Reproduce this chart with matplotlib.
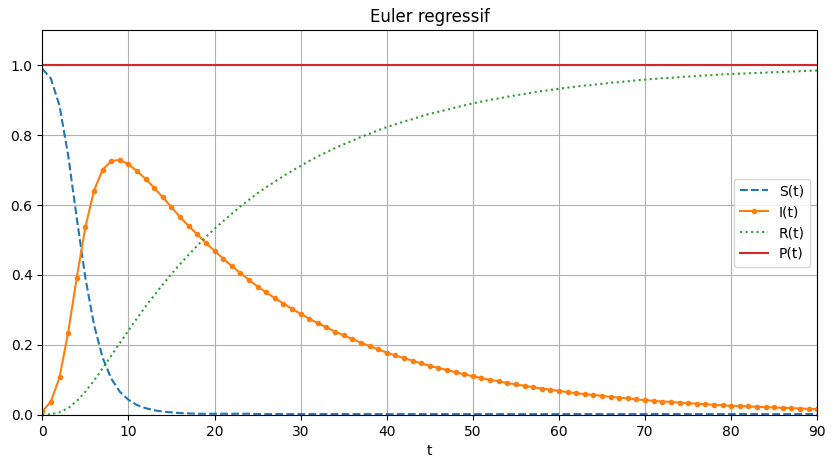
import matplotlib
matplotlib.use("Agg")
import matplotlib.pyplot as plt

# time steps (h = 1)
t = list(range(0, 91))

S = [0.990, 0.962, 0.884, 0.743, 0.563, 0.392, 0.258, 0.164, 0.104, 0.066,
     0.043, 0.028, 0.019, 0.013, 0.009, 0.007, 0.005, 0.004, 0.003, 0.003,
     0.003, 0.003, 0.003, 0.003, 0.003, 0.002, 0.002, 0.002, 0.002, 0.002,
     0.002, 0.002, 0.002, 0.002, 0.002, 0.002, 0.002, 0.002, 0.002, 0.002,
     0.002, 0.002, 0.002, 0.002, 0.002, 0.002, 0.002, 0.002, 0.002, 0.002,
     0.002, 0.002, 0.002, 0.002, 0.002, 0.002, 0.002, 0.002, 0.002, 0.002,
     0.002, 0.002, 0.002, 0.002, 0.002, 0.002, 0.002, 0.002, 0.002, 0.002,
     0.002, 0.002, 0.002, 0.002, 0.002, 0.002, 0.002, 0.002, 0.002, 0.002,
     0.002, 0.002, 0.002, 0.002, 0.002, 0.002, 0.002, 0.002, 0.002, 0.002,
     0.002]

I = [0.010, 0.038, 0.107, 0.235, 0.392, 0.537, 0.641, 0.701, 0.726, 0.729,
     0.717, 0.697, 0.675, 0.649, 0.622, 0.594, 0.566, 0.540, 0.516, 0.492,
     0.469, 0.447, 0.426, 0.405, 0.386, 0.367, 0.350, 0.334, 0.318, 0.303,
     0.289, 0.275, 0.262, 0.250, 0.238, 0.227, 0.217, 0.206, 0.197, 0.187,
     0.178, 0.170, 0.162, 0.155, 0.147, 0.140, 0.134, 0.128, 0.122, 0.116,
     0.110, 0.105, 0.100, 0.096, 0.091, 0.087, 0.083, 0.079, 0.075, 0.072,
     0.068, 0.065, 0.062, 0.059, 0.057, 0.054, 0.051, 0.049, 0.047, 0.044,
     0.042, 0.040, 0.038, 0.037, 0.035, 0.033, 0.032, 0.030, 0.029, 0.027,
     0.026, 0.025, 0.024, 0.023, 0.022, 0.021, 0.020, 0.019, 0.018, 0.017,
     0.016]

R = [0.000, 0.002, 0.007, 0.019, 0.039, 0.066, 0.098, 0.133, 0.169, 0.205,
     0.241, 0.276, 0.310, 0.342, 0.373, 0.403, 0.431, 0.458, 0.484, 0.509,
     0.532, 0.554, 0.575, 0.596, 0.615, 0.634, 0.651, 0.667, 0.683, 0.698,
     0.712, 0.726, 0.739, 0.751, 0.763, 0.774, 0.784, 0.795, 0.804, 0.814,
     0.823, 0.831, 0.839, 0.846, 0.854, 0.861, 0.867, 0.873, 0.879, 0.885,
     0.891, 0.896, 0.901, 0.905, 0.910, 0.914, 0.918, 0.922, 0.926, 0.929,
     0.933, 0.936, 0.939, 0.942, 0.944, 0.947, 0.950, 0.952, 0.954, 0.957,
     0.959, 0.961, 0.963, 0.964, 0.966, 0.968, 0.969, 0.971, 0.972, 0.974,
     0.975, 0.976, 0.977, 0.978, 0.979, 0.980, 0.981, 0.982, 0.983, 0.984,
     0.985]

P = [1.0] * len(t)

fig = plt.figure(figsize=(8.35, 4.68), dpi=100)
ax = fig.add_axes([42.3 / 835, (468 - 414.8) / 468, 775 / 835, 384.5 / 468])
ax.plot(t, S, '--', label='S(t)')
ax.plot(t, I, '.-', label='I(t)')
ax.plot(t, R, ':', label='R(t)')
ax.plot(t, P, '-', label='P(t)')
ax.set_xlim([0, 90])
ax.set_ylim([0, 1.1])
ax.set_xlabel('t')
ax.set_title('Euler regressif')
ax.grid()
ax.legend(loc='center right')
fig.savefig('out.png', dpi=100)
